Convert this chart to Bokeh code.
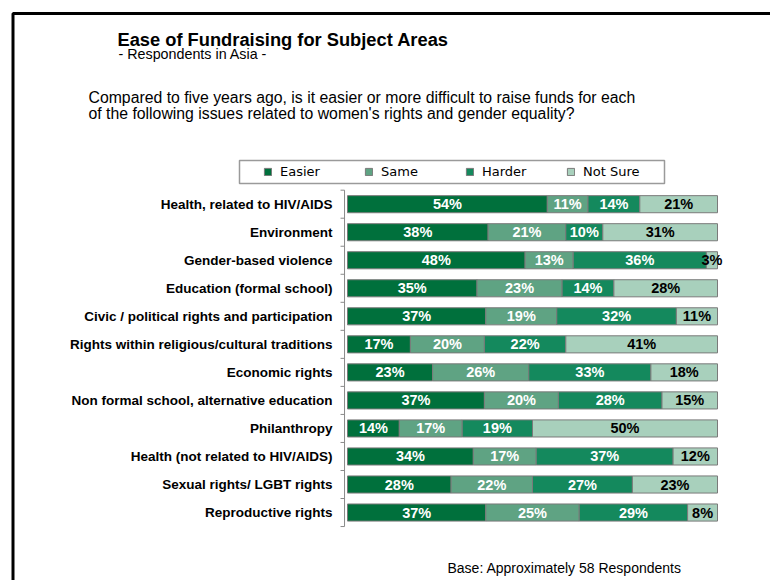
from bokeh.plotting import figure
from bokeh.models import (ColumnDataSource, Range1d, Label, BoxAnnotation,
                          Legend, LegendItem)
from bokeh.core.properties import value
from bokeh.embed import file_html
from bokeh.resources import INLINE

# ---------------- data ----------------
categories = [
    "Health, related to HIV/AIDS",
    "Environment",
    "Gender-based violence",
    "Education (formal school)",
    "Civic / political rights and participation",
    "Rights within religious/cultural traditions",
    "Economic rights",
    "Non formal school, alternative education",
    "Philanthropy",
    "Health (not related to HIV/AIDS)",
    "Sexual rights/ LGBT rights",
    "Reproductive rights",
]
easier = [54, 38, 48, 35, 37, 17, 23, 37, 14, 34, 28, 37]
same = [11, 21, 13, 23, 19, 20, 26, 20, 17, 17, 22, 25]
harder = [14, 10, 36, 14, 32, 22, 33, 28, 19, 37, 27, 29]
not_sure = [21, 31, 3, 28, 11, 41, 18, 15, 50, 12, 23, 8]
series_names = ["Easier", "Same", "Harder", "Not Sure"]

colors = ["#00703c", "#5fa383", "#14895d", "#a8d0bc"]
label_colors = ["white", "white", "white", "black"]

title_text = "Ease of Fundraising for Subject Areas"
subtitle_text = "- Respondents in Asia -"
question_lines = [
    "Compared to five years ago, is it easier or more difficult to raise funds for each",
    "of the following issues related to women's rights and gender equality?",
]
footer_text = "Base: Approximately 58 Respondents"

# ---------------- layout constants (canvas pixels) ----------------
W, H = 770, 580
BAR_X0 = 347          # canvas x of 0 %
PX_PER_PCT = 3.70     # pixels per percentage point
ROW0_Y = 203.7        # canvas y of first row centre
ROW_STEP = 28.03      # pixels between rows
AXIS_GAP = 0.8        # axis line sits a little left of 0 %

n = len(categories)
series = [easier, same, harder, not_sure]
keys = ["easier", "same", "harder", "not_sure"]
ypos = [n - 1 - i for i in range(n)]
totals = [sum(s[i] for s in series) for i in range(n)]

data = {"y": ypos, "cat": categories}
for k, s in zip(keys, series):
    data[k] = [v / t * 100 for v, t in zip(s, totals)]
src = ColumnDataSource(data)

# frame covers whole canvas; default ranges are canvas pixels (y downwards)
p = figure(width=W, height=H, output_backend="svg", toolbar_location=None,
           x_range=Range1d(0, W), y_range=Range1d(H, 0),
           x_axis_location=None, y_axis_location=None,
           min_border=0)
p.outline_line_color = None
p.grid.visible = False
p.background_fill_color = "white"
p.border_fill_color = "white"

# scales for the bars
pct_start = -BAR_X0 / PX_PER_PCT
pct_end = (W - BAR_X0) / PX_PER_PCT
top_val = (n - 1) + ROW0_Y / ROW_STEP
bot_val = (n - 1) - (H - ROW0_Y) / ROW_STEP
p.extra_x_ranges = {"pct": Range1d(pct_start, pct_end)}
p.extra_y_ranges = {"rows": Range1d(bot_val, top_val)}

renderers = p.hbar_stack(keys, y="y", height=0.61, source=src,
                         x_range_name="pct", y_range_name="rows",
                         color=colors, line_color="#7a7a7a", line_width=1)

# percentage labels
for j, (k, s) in enumerate(zip(keys, series)):
    xs = []
    for i in range(n):
        left = sum(data[kk][i] for kk in keys[:j])
        xs.append(left + data[k][i] / 2)
    lsrc = ColumnDataSource({"x": xs, "y": ypos, "t": [f"{v}%" for v in s]})
    p.text(x="x", y="y", text="t", source=lsrc, text_color=label_colors[j],
           x_range_name="pct", y_range_name="rows",
           text_font=value("Liberation Sans"), text_font_style="bold",
           text_font_size="14.5px", text_align="center", text_baseline="middle")

# category axis (line, boundary ticks, labels)
axis_x = -AXIS_GAP
tick_len = 4 / PX_PER_PCT
bounds = [v - 0.5 for v in range(n + 1)]
p.segment(x0=[axis_x], y0=[bounds[0]], x1=[axis_x], y1=[bounds[-1]],
          x_range_name="pct", y_range_name="rows", line_color="#8a8a8a", line_width=1)
p.segment(x0=[axis_x] * len(bounds), y0=bounds, x1=[axis_x - tick_len] * len(bounds), y1=bounds,
          x_range_name="pct", y_range_name="rows", line_color="#8a8a8a", line_width=1)
p.text(x=axis_x, y="y", text="cat", source=src, x_offset=-12,
       x_range_name="pct", y_range_name="rows",
       text_font=value("Liberation Sans"), text_font_style="bold",
       text_font_size="13.5px", text_color="black",
       text_align="right", text_baseline="middle")

# legend
legend_box = BoxAnnotation(left=239, right=664, top=160, bottom=183,
                           fill_color="white", fill_alpha=1,
                           line_color="#9a9a9a", line_alpha=1, line_width=1.5,
                           level="underlay")
p.add_layout(legend_box)
legend = Legend(items=[LegendItem(label=nm, renderers=[r]) for nm, r in zip(series_names, renderers)],
                orientation="horizontal", location=(263, H - 181.5),
                padding=0, margin=0, spacing=0, label_width=84, label_height=20,
                label_standoff=8, glyph_width=9, glyph_height=9,
                border_line_color=None, background_fill_alpha=0,
                label_text_font="DejaVu Sans", label_text_font_size="13px",
                label_text_color="black")
p.add_layout(legend)

# outer black frame (runs off the right and bottom edges)
frame_box = BoxAnnotation(left=12.5, right=W + 50, top=13, bottom=H + 50,
                          fill_alpha=0, line_color="black", line_alpha=1, line_width=3)
p.add_layout(frame_box)

# texts
def add_label(text, x, y_mid, size, style="normal"):
    p.add_layout(Label(x=x, y=y_mid, text=text,
                       text_font="Liberation Sans", text_font_size=size,
                       text_font_style=style, text_color="black",
                       text_baseline="middle", text_align="left"))

add_label(title_text, 117, 39, "18.3px", "bold")
add_label(subtitle_text, 118, 53, "14.3px")
add_label(question_lines[0], 88, 97, "15.8px")
add_label(question_lines[1], 88, 113, "15.8px")
add_label(footer_text, 447, 567, "14px")

open("out.html", "w").write(file_html(p, INLINE))
